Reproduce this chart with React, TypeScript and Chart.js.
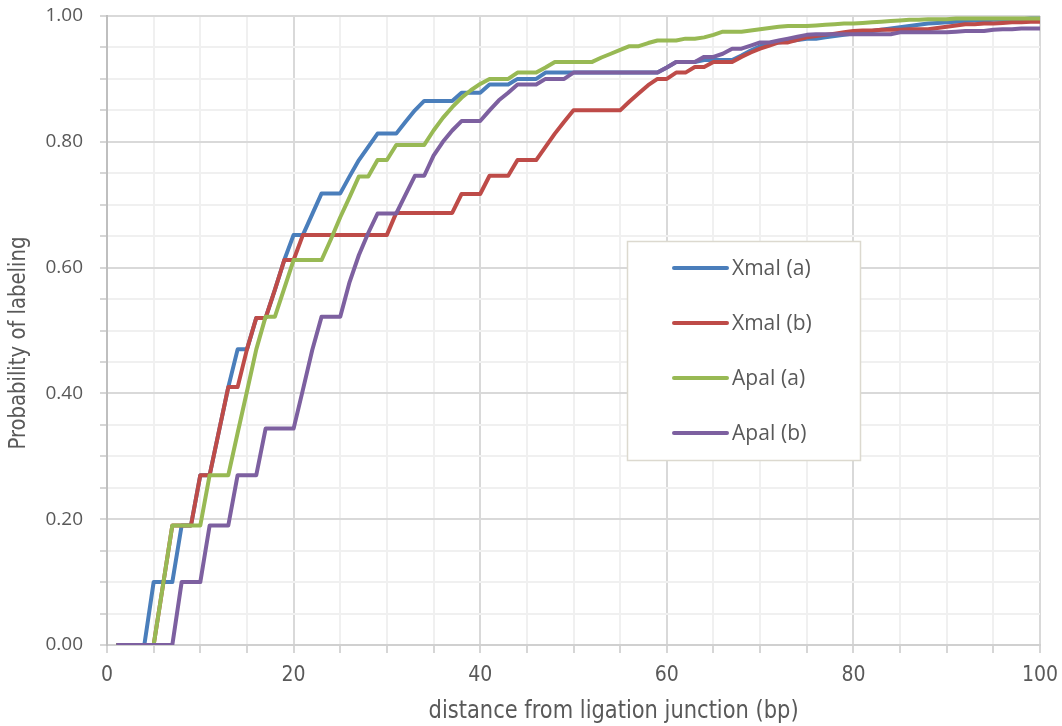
import React, { useEffect, useRef } from 'react';
import { Chart, registerables } from 'chart.js';

Chart.register(...registerables);

// ---------- data ----------
const distances = [
  1, 2, 3, 4, 5, 6, 7, 8, 9, 10,
  11, 12, 13, 14, 15, 16, 17, 18, 19, 20,
  21, 22, 23, 24, 25, 26, 27, 28, 29, 30,
  31, 32, 33, 34, 35, 36, 37, 38, 39, 40,
  41, 42, 43, 44, 45, 46, 47, 48, 49, 50,
  51, 52, 53, 54, 55, 56, 57, 58, 59, 60,
  61, 62, 63, 64, 65, 66, 67, 68, 69, 70,
  71, 72, 73, 74, 75, 76, 77, 78, 79, 80,
  81, 82, 83, 84, 85, 86, 87, 88, 89, 90,
  91, 92, 93, 94, 95, 96, 97, 98, 99, 100,
];

const seriesNames = ['XmaI (a)', 'XmaI (b)', 'ApaI (a)', 'ApaI (b)'];
const seriesColors = ['#4A7EBB', '#BE4B48', '#98B954', '#7D60A0'];

const xmaIa = [
  0, 0, 0, 0, 0.10, 0.10, 0.10, 0.19, 0.19, 0.27,
  0.27, 0.34, 0.41, 0.47, 0.47, 0.52, 0.52, 0.565, 0.612, 0.652,
  0.652, 0.685, 0.718, 0.718, 0.718, 0.745, 0.771, 0.792, 0.813, 0.813,
  0.813, 0.832, 0.85, 0.865, 0.865, 0.865, 0.865, 0.878, 0.878, 0.878,
  0.891, 0.891, 0.891, 0.90, 0.90, 0.90, 0.91, 0.91, 0.91, 0.91,
  0.91, 0.91, 0.91, 0.91, 0.91, 0.91, 0.91, 0.91, 0.91, 0.918,
  0.927, 0.927, 0.927, 0.93, 0.93, 0.93, 0.93, 0.937, 0.945, 0.952,
  0.956, 0.958, 0.96, 0.962, 0.964, 0.964, 0.966, 0.968, 0.97, 0.972,
  0.974, 0.976, 0.978, 0.98, 0.982, 0.984, 0.986, 0.988, 0.989, 0.99,
  0.991, 0.992, 0.993, 0.993, 0.994, 0.994, 0.995, 0.995, 0.996, 0.996,
];

const xmaIb = [
  0, 0, 0, 0, 0, 0.095, 0.19, 0.19, 0.19, 0.27,
  0.27, 0.34, 0.41, 0.41, 0.47, 0.52, 0.52, 0.565, 0.612, 0.612,
  0.652, 0.652, 0.652, 0.652, 0.652, 0.652, 0.652, 0.652, 0.652, 0.652,
  0.687, 0.687, 0.687, 0.687, 0.687, 0.687, 0.687, 0.717, 0.717, 0.717,
  0.746, 0.746, 0.746, 0.771, 0.771, 0.771, 0.792, 0.813, 0.832, 0.85,
  0.85, 0.85, 0.85, 0.85, 0.85, 0.864, 0.877, 0.89, 0.90, 0.90,
  0.91, 0.91, 0.919, 0.919, 0.927, 0.927, 0.927, 0.935, 0.942, 0.948,
  0.953, 0.958, 0.958, 0.962, 0.966, 0.968, 0.97, 0.972, 0.974, 0.976,
  0.977, 0.977, 0.978, 0.978, 0.978, 0.979, 0.979, 0.979, 0.981, 0.983,
  0.985, 0.987, 0.987, 0.988, 0.988, 0.989, 0.99, 0.99, 0.991, 0.991,
];

const apaIa = [
  0, 0, 0, 0, 0, 0.095, 0.19, 0.19, 0.19, 0.19,
  0.27, 0.27, 0.27, 0.337, 0.403, 0.47, 0.522, 0.522, 0.567, 0.612,
  0.612, 0.612, 0.612, 0.645, 0.68, 0.712, 0.745, 0.745, 0.771, 0.771,
  0.795, 0.795, 0.795, 0.795, 0.818, 0.838, 0.855, 0.87, 0.882, 0.892,
  0.90, 0.90, 0.90, 0.91, 0.91, 0.91, 0.918, 0.927, 0.927, 0.927,
  0.927, 0.927, 0.934, 0.94, 0.946, 0.952, 0.952, 0.957, 0.961, 0.961,
  0.961, 0.964, 0.964, 0.966, 0.97, 0.975, 0.975, 0.975, 0.977, 0.979,
  0.981, 0.983, 0.984, 0.984, 0.984, 0.985, 0.986, 0.987, 0.988, 0.988,
  0.989, 0.99, 0.991, 0.992, 0.993, 0.994, 0.994, 0.995, 0.995, 0.995,
  0.996, 0.996, 0.996, 0.996, 0.996, 0.996, 0.996, 0.996, 0.996, 0.996,
];

const apaIb = [
  0, 0, 0, 0, 0, 0, 0, 0.10, 0.10, 0.10,
  0.19, 0.19, 0.19, 0.27, 0.27, 0.27, 0.344, 0.344, 0.344, 0.344,
  0.406, 0.469, 0.522, 0.522, 0.522, 0.577, 0.62, 0.655, 0.686, 0.686,
  0.686, 0.716, 0.746, 0.746, 0.778, 0.80, 0.818, 0.833, 0.833, 0.833,
  0.85, 0.866, 0.878, 0.891, 0.891, 0.891, 0.90, 0.90, 0.90, 0.91,
  0.91, 0.91, 0.91, 0.91, 0.91, 0.91, 0.91, 0.91, 0.91, 0.918,
  0.927, 0.927, 0.927, 0.935, 0.935, 0.94, 0.948, 0.948, 0.953, 0.958,
  0.958, 0.961, 0.964, 0.967, 0.97, 0.971, 0.971, 0.971, 0.971, 0.971,
  0.971, 0.971, 0.971, 0.971, 0.974, 0.974, 0.974, 0.974, 0.974, 0.974,
  0.975, 0.976, 0.976, 0.976, 0.978, 0.979, 0.979, 0.98, 0.98, 0.98,
];

const seriesValues = [xmaIa, xmaIb, apaIa, apaIb];

const xTitle = 'distance from ligation junction (bp)';
const yTitle = 'Probability of labeling';

// ---------- style ----------
const TEXT = '#595959';
const NARROW = '"Liberation Sans Narrow", "DejaVu Sans Condensed", "Roboto Condensed", Lato, "Open Sans", sans-serif';
const isMajorX = (v: number) => Math.abs(v / 20 - Math.round(v / 20)) < 1e-6;
const isMajorY = (v: number) => Math.abs(v * 5 - Math.round(v * 5)) < 1e-6;

function drawFitted(ctx: CanvasRenderingContext2D, text: string, size: number, targetW: number) {
  ctx.font = `${size}px ${NARROW}`;
  const w = ctx.measureText(text).width;
  const sx = w > 0 ? targetW / w : 1;
  ctx.save();
  ctx.scale(sx, 1);
  ctx.fillText(text, 0, 0);
  ctx.restore();
}

const overlayPlugin = {
  id: 'overlay',
  afterDatasetsDraw(chart: any) {
    const ctx = chart.ctx as CanvasRenderingContext2D;
    const area = chart.chartArea;
    ctx.save();
    // legend box
    const lx = 627, ly = 241, lw = 233, lh = 219;
    ctx.fillStyle = '#ffffff';
    ctx.fillRect(lx, ly, lw, lh);
    ctx.strokeStyle = '#dcd9cf';
    ctx.lineWidth = 1.5;
    ctx.strokeRect(lx + 0.5, ly + 0.5, lw, lh);
    chart.data.datasets.forEach((ds: any, i: number) => {
      const y = ly + 27 + i * 55;
      ctx.strokeStyle = ds.borderColor;
      ctx.lineWidth = 4;
      ctx.lineCap = 'round';
      ctx.beginPath();
      ctx.moveTo(lx + 47, y);
      ctx.lineTo(lx + 100, y);
      ctx.stroke();
      ctx.fillStyle = TEXT;
      ctx.font = '21px "Open Sans"';
      ctx.textAlign = 'left';
      ctx.textBaseline = 'middle';
      ctx.fillText(ds.label, lx + 105, y + 1);
    });
    // axis titles
    ctx.fillStyle = TEXT;
    ctx.textAlign = 'center';
    ctx.textBaseline = 'middle';
    ctx.save();
    ctx.translate(area.left + (area.right - area.left) * 0.543, 712);
    drawFitted(ctx, xTitle, 24, 370);
    ctx.restore();
    ctx.save();
    ctx.translate(19, area.top + (area.bottom - area.top) * 0.52);
    ctx.rotate(-Math.PI / 2);
    drawFitted(ctx, yTitle, 23, 213);
    ctx.restore();
    ctx.restore();
  },
};

export default function App() {
  const ref = useRef<HTMLCanvasElement>(null);
  useEffect(() => {
    const canvas = ref.current!;
    const chart = new Chart(canvas, {
      type: 'line',
      data: {
        datasets: seriesValues.map((vals, k) => ({
          label: seriesNames[k],
          data: vals.map((v, i) => ({ x: distances[i], y: v })),
          borderColor: seriesColors[k],
          backgroundColor: seriesColors[k],
          borderWidth: 4,
          pointRadius: 0,
          tension: 0,
          fill: false,
          borderJoinStyle: 'round',
          order: 4 - k,
        })),
      },
      options: {
        animation: false,
        responsive: false,
        maintainAspectRatio: false,
        devicePixelRatio: 1,
        layout: { padding: { top: 16, right: 22, left: 0, bottom: 0 } },
        plugins: { legend: { display: false }, tooltip: { enabled: false } },
        scales: {
          x: {
            type: 'linear',
            min: 0,
            max: 100,
            afterFit: (s: any) => {
              s.height = 81;
              s.paddingLeft = 0;
              s.paddingRight = 0;
            },
            ticks: {
              stepSize: 5,
              autoSkip: false,
              maxRotation: 0,
              padding: 10,
              color: TEXT,
              font: { family: NARROW, size: 21 },
              callback: (v: any) => (isMajorX(Number(v)) ? String(v) : ''),
            },
            grid: {
              color: (c: any) => (c.tick && isMajorX(c.tick.value) ? '#d9d9d9' : '#f0f0f0'),
              lineWidth: 2,
              tickLength: 8,
              tickColor: '#c8c8c8',
              tickWidth: 1.5,
            },
            border: { color: '#d0d0d0', width: 2 },
          },
          y: {
            type: 'linear',
            min: 0,
            max: 1,
            afterFit: (s: any) => {
              s.width = 107;
              s.paddingTop = 0;
              s.paddingBottom = 0;
            },
            ticks: {
              stepSize: 0.05,
              autoSkip: false,
              padding: 17,
              color: TEXT,
              font: { family: '"Open Sans"', size: 19 },
              callback: (v: any) => (isMajorY(Number(v)) ? Number(v).toFixed(2) : ''),
            },
            grid: {
              color: (c: any) => (c.tick && isMajorY(c.tick.value) ? '#d9d9d9' : '#f0f0f0'),
              lineWidth: 2,
              tickLength: 7,
              tickColor: '#c8c8c8',
              tickWidth: 1.5,
            },
            border: { color: '#bfbfbf', width: 2 },
          },
        },
      },
      plugins: [overlayPlugin],
    } as any);
    return () => chart.destroy();
  }, []);
  return (
    <div style={{ position: 'absolute', left: 0, top: 0, width: 1062, height: 726, background: '#ffffff' }}>
      <canvas ref={ref} width={1062} height={726} style={{ display: 'block', width: 1062, height: 726 }} />
    </div>
  );
}
